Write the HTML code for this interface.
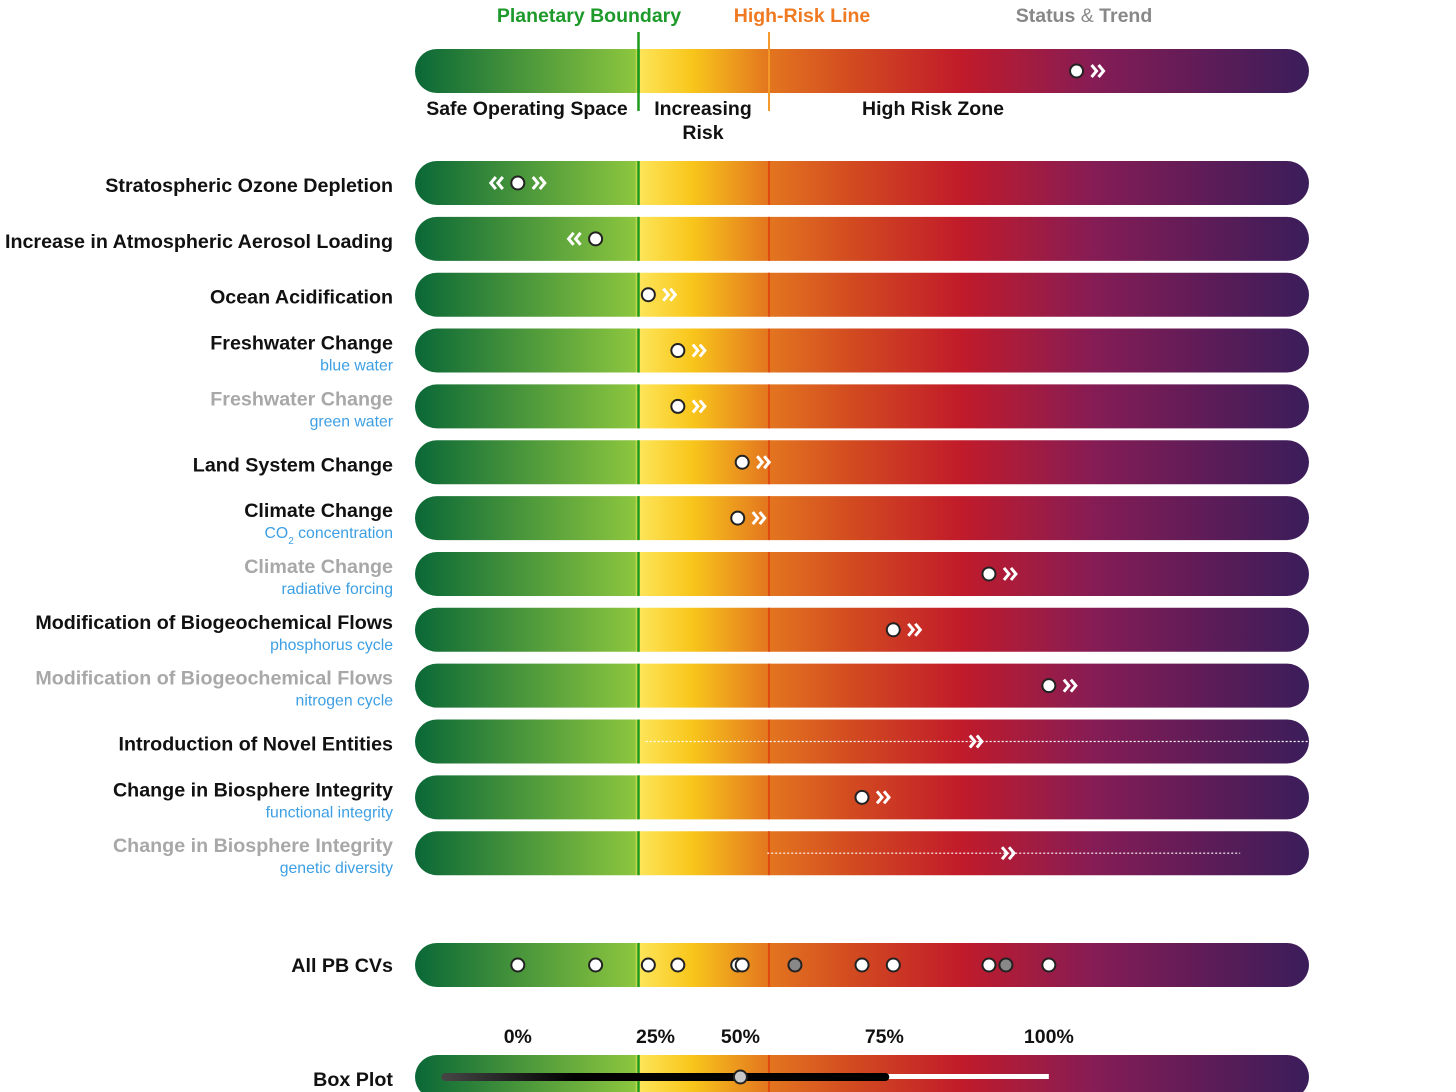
<!DOCTYPE html>
<html><head><meta charset="utf-8">
<style>
body{margin:0;width:1456px;height:1092px;background:#fff;overflow:hidden;font-family:"Liberation Sans",sans-serif;position:relative}
</style></head>
<body>
<svg id="chart" width="1456" height="1092" style="position:absolute;left:0;top:0">
<defs>
<linearGradient id="g" x1="415" x2="1309" y1="0" y2="0" gradientUnits="userSpaceOnUse">
<stop offset="0" stop-color="#0a6837"/>
<stop offset="0.246" stop-color="#8cc63f"/>
<stop offset="0.25" stop-color="#fde55a"/>
<stop offset="0.31" stop-color="#f8c61b"/>
<stop offset="0.395" stop-color="#e3761f"/>
<stop offset="0.49" stop-color="#d24a20"/>
<stop offset="0.61" stop-color="#c11b2a"/>
<stop offset="0.76" stop-color="#851c55"/>
<stop offset="1" stop-color="#3a1d5a"/>
</linearGradient>
<linearGradient id="bk" x1="445" x2="886" y1="0" y2="0" gradientUnits="userSpaceOnUse">
<stop offset="0" stop-color="#444"/>
<stop offset="0.3" stop-color="#000"/>
<stop offset="1" stop-color="#000"/>
</linearGradient>
</defs>
</svg>
<script>
const rowLabels=["Stratospheric Ozone Depletion","Increase in Atmospheric Aerosol Loading","Ocean Acidification","Freshwater Change","Freshwater Change","Land System Change","Climate Change","Climate Change","Modification of Biogeochemical Flows","Modification of Biogeochemical Flows","Introduction of Novel Entities","Change in Biosphere Integrity","Change in Biosphere Integrity"];
const rowSubs=["","","","blue water","green water","","CO<tspan baseline-shift='sub' font-size='10'>2</tspan> concentration","radiative forcing","phosphorus cycle","nitrogen cycle","","functional integrity","genetic diversity"];
const rowGrey=[0,0,0,0,1,0,0,1,0,1,0,0,1];
const rowValues=[11.5,20.2,26.1,29.4,29.4,36.6,36.1,64.2,53.5,70.9,62.4,50.0,66.0];
const rowTrend=["both","left","right","right","right","right","right","right","right","right","unknown","right","unknown"];
const rowDottedStart=[null,null,null,null,null,null,null,null,null,null,25.8,null,39.4];
const rowDottedEnd=[null,null,null,null,null,null,null,null,null,null,100,null,92.3];
const headerValue=74;
const allCVs=[11.5,20.2,26.1,29.4,36.1,36.6,42.5,50.0,53.5,64.2,66.1,70.9];
const allCVsGrey=[0,0,0,0,0,0,1,0,0,0,1,0];
const quantileLabels=["0%","25%","50%","75%","100%"];
const quantileValues=[11.5,26.9,36.4,52.5,70.9];
const boxWhite=[27.1,70.9];
const boxBlack=[3.4,52.6];
const boxMedian=36.4;
const pbValue=25.0, hrValue=39.6;

const X0=415,X1=1309;
const xs=v=>X0+v/100*(X1-X0);
const svg=document.getElementById('chart');
const NS='http://www.w3.org/2000/svg';
function el(tag,attrs,parent){const e=document.createElementNS(NS,tag);for(const k in attrs)e.setAttribute(k,attrs[k]);(parent||svg).appendChild(e);return e;}
function text(x,y,s,size,fill,anchor,weight){const e=el('text',{x:x,y:y,'font-size':size,fill:fill,'text-anchor':anchor||'end','font-weight':weight||'bold','font-family':'Liberation Sans, sans-serif'});e.innerHTML=s;return e;}
function bar(cy,h,name){
  const g=el('g',{});
  
  
  el('rect',{x:X0,y:cy-h/2,width:X1-X0,height:h,rx:22,fill:'url(#g)'},g);
  el('line',{x1:xs(pbValue),x2:xs(pbValue),y1:cy-h/2,y2:cy+h/2,stroke:'#1e9a1e','stroke-width':2.5},g);
  el('line',{x1:xs(hrValue),x2:xs(hrValue),y1:cy-h/2,y2:cy+h/2,stroke:'#e04a10','stroke-width':2},g);
  return g;
}
function dot(x,cy,fill,g,name){const c=el('circle',{cx:x,cy:cy,r:6.5,fill:fill,stroke:'#222','stroke-width':2},g);return c;}
function chev(x,cy,dir,g){
  const p=el('path',{d:dir>0?`M${x-7} ${cy-6}l5 6l-5 6 M${x} ${cy-6}l5 6l-5 6`:`M${x+7} ${cy-6}l-5 6l5 6 M${x} ${cy-6}l-5 6l5 6`,fill:'none',stroke:'#fff','stroke-width':3},g);
  
  
}
// header
text(589,22,'Planetary Boundary',19.5,'#1d9a2a','middle');
text(802,22,'High-Risk Line',19.5,'#ef7a22','middle');
text(1084,22,'Status <tspan font-weight="normal">&amp;</tspan> Trend',19.5,'#888','middle');
const hb=bar(71,44,'legend-bar');
el('line',{x1:xs(pbValue),x2:xs(pbValue),y1:32,y2:111,stroke:'#1e9a1e','stroke-width':2.5});
el('line',{x1:xs(hrValue),x2:xs(hrValue),y1:32,y2:111,stroke:'#f39a2a','stroke-width':2});
dot(xs(headerValue),71,'#fff',hb,'legend-status-dot');chev(xs(headerValue)+22,71,1,hb);
text(527,115,'Safe Operating Space',19.5,'#111','middle');
text(703,115,'Increasing',19.5,'#111','middle');
text(703,139,'Risk',19.5,'#111','middle');
text(933,115,'High Risk Zone',19.5,'#111','middle');
// rows
rowLabels.forEach((lab,i)=>{
  const cy=183+i*55.85;
  const g=bar(cy,44,'bar-row-'+i);
  const sub=rowSubs[i];
  const ty=sub?cy-1:cy+9;
  const t=text(393,ty,lab,19.7,rowGrey[i]?'#a8a8a8':'#111','end');
  
  
  if(sub){const s=text(393,cy+20,sub,15.8,'#3d9fe3','end','normal');}
  const x=xs(rowValues[i]);
  if(rowTrend[i]==='unknown'){
    el('line',{x1:xs(rowDottedStart[i]),x2:xs(rowDottedEnd[i]),y1:cy,y2:cy,stroke:'#fff','stroke-width':1.2,'stroke-dasharray':'2 2'},g);
    chev(x+4,cy,1,g);
  }else{
    if(rowTrend[i]==='both'||rowTrend[i]==='left')chev(x-22,cy,-1,g);
    dot(x,cy,'#fff',g,'status-dot');
    if(rowTrend[i]==='both'||rowTrend[i]==='right')chev(x+22,cy,1,g);
  }
});
// All CVs
text(393,972,'All PB CVs',19.7,'#111','end');
const ag=bar(965,44,'all-cvs-bar');
allCVs.forEach((v,i)=>dot(xs(v),965,allCVsGrey[i]?'#888':'#fff',ag,'cv-dot'));
// box plot
quantileLabels.forEach((q,i)=>{const t=text(xs(quantileValues[i]),1043,q,19.5,'#111','middle');});
text(393,1086,'Box Plot',19.7,'#111','end');
const bg=bar(1077,44,'box-plot-bar');
el('rect',{x:xs(boxWhite[0]),y:1074,width:xs(boxWhite[1])-xs(boxWhite[0]),height:5,fill:'#fff'},bg);
el('line',{x1:xs(boxBlack[0]),x2:xs(boxBlack[1]),y1:1077,y2:1077,stroke:'url(#bk)','stroke-width':8,'stroke-linecap':'round'},bg);
dot(xs(boxMedian),1077,'#c8c8c8',bg,'median-dot');
</script>
</body></html>
